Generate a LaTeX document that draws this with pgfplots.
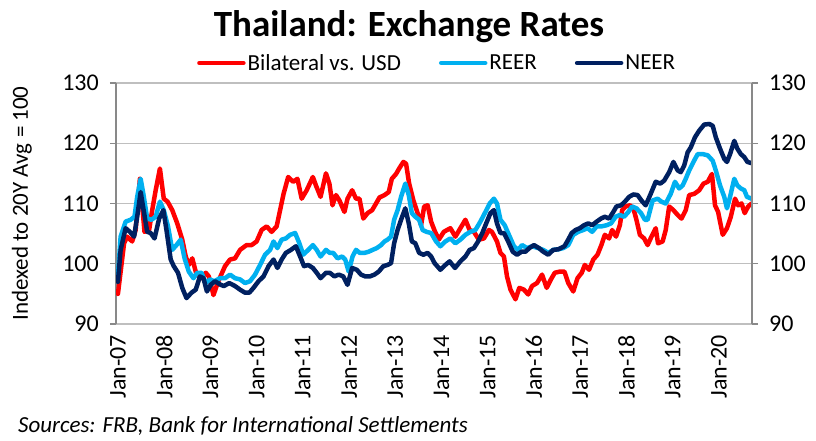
\documentclass[border=0pt]{standalone}
\usepackage{fontspec}
\setmainfont{Carlito}
\usepackage{pgfplots}
\pgfplotsset{compat=1.18}
\definecolor{cred}{HTML}{FF0000}
\definecolor{cblue}{HTML}{00B0F0}
\definecolor{cnavy}{HTML}{002060}
\definecolor{gridg}{HTML}{BFBFBF}
\definecolor{axg}{HTML}{898989}
\begin{document}
\begin{tikzpicture}
\path[use as bounding box] (0bp,0bp) rectangle (816bp,441bp);
\node[anchor=base, font=\fontsize{37bp}{40bp}\selectfont\bfseries, inner sep=0pt] at (409bp,404bp) {Thailand: Exchange Rates};
\node[anchor=base west, font=\fontsize{23bp}{26bp}\selectfont\itshape, inner sep=0pt] at (18bp,9bp) {Sources: FRB, Bank for International Settlements};
\begin{axis}[
  at={(116bp,117bp)}, anchor=south west, scale only axis,
  width=636bp, height=241bp,
  xmin=-0.5, xmax=164.6, ymin=90, ymax=130,
  axis y line*=left, axis x line*=bottom,
  x axis line style={draw=gridg, line width=1.3bp, -},
  y axis line style={draw=axg, line width=1.3bp, -},
  ytick={90,100,110,120,130},
  xtick={0,12,...,156},
  xticklabels={Jan-07,Jan-08,Jan-09,Jan-10,Jan-11,Jan-12,Jan-13,Jan-14,Jan-15,Jan-16,Jan-17,Jan-18,Jan-19,Jan-20},
  x tick style={draw=none},
  y tick style={draw=axg, line width=1.3bp},
  tick align=outside, major tick length=6bp,
  ymajorgrids, grid style={draw=gridg, line width=1.3bp},
  /pgf/number format/assume math mode=true,
  tick label style={font=\fontsize{24bp}{26bp}\selectfont, text=black},
  xticklabel style={rotate=90, anchor=east, inner sep=0pt},
  yticklabel style={inner sep=0pt},
  xtick pos=bottom, ytick pos=left,
  xticklabel shift=5bp, yticklabel shift=11bp,
  ylabel={Indexed to 20Y Avg = 100},
  ylabel style={at={(axis description cs:-0.148,0.5)}, anchor=center, font=\fontsize{23bp}{26bp}\selectfont},
  legend columns=3,
  legend style={at={(axis description cs:0.505,1.083)}, anchor=center, draw=none, fill=none,
    font=\fontsize{23bp}{26bp}\selectfont, inner sep=0pt,
    /tikz/every even column/.append style={column sep=36bp}},
  legend image code/.code={\draw[#1] (0bp,0bp) -- (44bp,0bp);},
  every axis plot/.append style={line width=4.5bp, line join=round, line cap=round},
]
\addplot[cred] coordinates {
(0,95.0) (1.6,103.4) (2.4,104.5) (3.7,103.7) (4.6,105.6) (5.7,114.1) (6.9,105.3) (8.1,105.6) (8.9,108.9) (9.8,112.2) (10.9,115.8) (11.9,110.8) (12.9,110.3) (14.1,108.9) (15.4,106.7) (16.7,104.0) (17.6,101.2) (18.4,99.8) (19.3,100.9) (20.4,98.2) (21.6,97.6) (22.8,98.5) (23.6,97.9) (24.8,94.8) (26.0,97.0) (27.8,99.6) (29.1,100.7) (30.4,100.9) (31.7,102.3) (33.4,103.1) (34.7,103.1) (36,103.7) (37.3,105.6) (38.6,106.2) (39.9,105.3) (41.2,106.2) (42.1,108.9) (43,111.6) (44.2,114.4) (45.5,113.6) (46.6,114.1) (47.7,110.8) (49,112.2) (50.6,114.4) (51.4,113.0) (52.6,111.1) (54,115.0) (54.9,113.3) (55.7,109.7) (56.6,111.4) (57.5,110.5) (58.8,108.6) (59.6,110.8) (60.8,112.2) (61.8,110.8) (62.7,110.8) (63.7,107.5) (64.8,108.4) (66,108.9) (67,110) (67.9,111) (69.2,111.4) (70.3,111.9) (71.1,114.1) (72.2,114.9) (73,115.8) (74.1,116.9) (74.8,116.6) (75.6,113.3) (76.7,110.5) (77.8,108.4) (78.7,106.4) (79.5,109.5) (80.4,109.7) (81.3,107) (82.2,105.5) (83.3,104.0) (84.6,105.3) (86.3,105.9) (87.6,104.5) (88.9,105.9) (90.2,107.3) (91.3,105.6) (92.4,105.3) (93.7,104.0) (95,104.2) (96.3,105.6) (97.1,105.3) (98.4,103.7) (99.3,101.8) (100.2,101.2) (101,97.9) (101.9,95.7) (103.2,94.1) (104.2,96.0) (105.4,95.7) (106.5,94.9) (107.5,96.3) (108.8,96.8) (110.1,98.2) (111.3,96.0) (112.4,97.4) (113.4,98.5) (114.7,98.7) (115.9,98.7) (116.9,96.8) (118.2,95.4) (119.3,97.6) (120.4,98.5) (121.2,99.8) (122.3,99.0) (123.4,100.7) (124.5,101.5) (125.5,103.1) (126.4,104.8) (127.5,104.2) (128.3,105.6) (129.3,104.5) (130.3,106.4) (130.9,108.9) (131.8,109.5) (132.9,109.7) (133.8,109.2) (134.6,107.3) (135.5,104.8) (136.6,104.2) (137.5,103.1) (138.5,104.5) (139.6,105.9) (140.2,103.4) (141.4,103.7) (142.2,105.6) (143.1,109.5) (144.2,108.9) (145.3,108.1) (146.3,107.5) (147.4,108.9) (148.3,111.4) (149.6,111.6) (150.9,112.2) (152,113.3) (153.1,113.6) (154.2,114.9) (155,109.7) (155.8,108.6) (157,104.8) (158.1,105.9) (159.1,107.8) (160.2,110.8) (161,109.7) (161.9,110) (162.7,108.4) (163.6,109.5) (164.5,110)
};
\addlegendentry{Bilateral vs. USD}
\addplot[cblue] coordinates {
(0,98.0) (0.7,104.5) (2,107) (3.3,107.3) (4.3,107.8) (5,111.1) (5.9,114.1) (6.6,111.6) (7.6,107.5) (8.7,107.3) (9.8,107.8) (10.9,110.3) (11.9,108.9) (13,106.2) (14.1,102.3) (15.2,103.1) (16.3,104.0) (17.3,100.9) (18.4,98.7) (19.6,97.6) (20.6,98.5) (21.7,98.5) (22.8,96.8) (23.9,97.4) (25,97.1) (26.5,97.6) (27.8,97.6) (29.1,98.2) (30.4,97.6) (31.7,97.4) (33,96.8) (34.3,97.1) (35.6,98.2) (36.9,99.8) (38.2,101.5) (39.5,102.3) (40.4,103.7) (41.4,102.6) (42.5,104) (43.6,104.2) (44.7,104.8) (46,105.1) (47.1,103.4) (48.1,101.5) (49.4,102.3) (50.6,103.1) (51.6,102.3) (52.6,101.2) (54,102.3) (55,101.8) (55.9,101.8) (57,100.9) (58.2,101.2) (59,100.7) (59.9,98.7) (60.9,101.2) (61.8,102.3) (62.8,101.8) (64,101.8) (65.1,102.0) (66.1,102.3) (67.2,102.6) (68.3,103.1) (69.2,103.7) (70,104) (70.9,104.5) (71.7,107.3) (72.6,108.9) (73.5,111.1) (74.6,113.3) (75.5,111.4) (76.3,108.4) (77.2,107.8) (78.2,107.3) (79.1,105.6) (80.1,105.3) (81.3,105.1) (82.6,103.7) (83.7,102.9) (85,103.7) (86.3,104.2) (87.6,103.4) (88.9,104) (90.2,104.8) (91.5,105.3) (92.8,105.6) (94.1,107) (95.4,108.6) (96.5,110) (97.6,110.8) (98.4,110) (99.3,107.3) (100.4,106.4) (101.5,104.8) (102.8,102.9) (103.9,102.3) (104.9,103.1) (106.2,102.6) (107.5,102.9) (109.1,102.6) (110.4,102.3) (111.7,101.8) (113,102.3) (114.3,102.4) (115.6,102.6) (116.9,103.1) (118.2,104.8) (119.5,105.3) (120.8,105.6) (121.9,105.9) (123.1,105.3) (124.3,106.2) (125.5,106.2) (126.9,106.4) (128,106.7) (129.2,107.8) (130.3,108.1) (131.4,107.8) (132.5,108.6) (133.5,109.5) (134.6,109.2) (135.8,108.4) (136.8,107.3) (137.5,107.3) (138.8,110.5) (140.1,110.8) (141.1,110.3) (142.2,110) (143.5,111.6) (144.6,113.6) (145.7,112.5) (146.6,113) (147.4,114.1) (148.3,115.5) (149.4,116.9) (150.5,118.2) (151.8,118.2) (153.1,118) (154.4,117.1) (155.2,115.5) (156.3,113) (157.4,111.1) (158.1,109.2) (158.9,111.1) (160,114.1) (160.8,113) (161.7,112.5) (162.6,112.2) (163.3,111.1) (164.5,110.8)
};
\addlegendentry{REER}
\addplot[cnavy] coordinates {
(0,97) (0.7,102.3) (2,105.9) (3.1,105.3) (4.2,104.5) (5,107.8) (5.9,111.9) (6.8,108.4) (7.6,105.3) (8.5,105.1) (9.5,104.2) (10.7,107.5) (11.8,108.9) (12.6,105.6) (13.7,100.7) (14.5,99.6) (15.6,98.5) (16.7,96) (17.8,94.3) (19.1,95.2) (20.2,95.7) (21.3,97.9) (22.2,97.6) (23.1,95.4) (24.1,96.5) (25.2,97.1) (26.7,96.5) (27.5,96.3) (28.9,96.8) (30.4,96.3) (31.7,95.7) (33,95.2) (34.1,95.2) (35.2,96.0) (36.5,97.1) (37.8,97.9) (39.1,99.6) (40.4,100.7) (41.4,99.3) (42.5,100.7) (43.6,101.8) (44.9,102.3) (46.2,102.9) (47.3,101.2) (48.3,99.6) (49.4,99.8) (50.6,99.3) (51.6,98.5) (52.6,97.6) (54,98.5) (55,98.5) (56.2,97.9) (57.3,98.2) (58.5,97.9) (59.6,96.5) (60.8,99.3) (62,99) (63.1,98.2) (64.2,97.9) (65.4,97.9) (66.6,98.2) (67.7,98.7) (68.9,99.6) (70,99.8) (70.9,100.1) (71.7,103.4) (72.6,105.6) (73.5,107.3) (74.6,109.2) (75.5,106.7) (76.3,103.7) (77.2,103.4) (78.2,101.8) (79.3,101.5) (80.4,101.8) (81.3,101.2) (82.2,100.1) (83.7,99) (85,99.8) (86.1,100.4) (87.5,99.3) (88.9,100.4) (90.2,101.2) (91.3,102.3) (92.4,102.6) (93.5,103.7) (94.6,105.1) (95.6,106.7) (96.7,108.4) (97.6,108.9) (98.4,106.7) (99.3,105.1) (100.2,105.1) (101.3,103.7) (102.5,102) (103.6,101.5) (104.8,102) (105.8,102) (106.8,102.6) (108,103.1) (109.3,102.6) (110.4,102) (111.7,101.5) (113,102.3) (114.3,102.4) (115.9,102.9) (116.9,104) (117.8,105.1) (118.8,105.6) (119.9,105.9) (121,106.4) (122.1,106.7) (123.1,106.4) (124.3,107) (125.4,107.5) (126.4,107.8) (127.5,107.5) (128.6,108.6) (129.4,109.5) (130.6,109.7) (131.6,110.3) (132.7,111.1) (133.8,111.5) (134.9,111.4) (135.9,110.5) (137,109.7) (138.3,111.6) (139.6,113.6) (140.8,113.3) (141.8,113.8) (143.1,115.2) (144.2,116.9) (145.3,115.5) (146.1,115.2) (147,116.3) (147.9,118.5) (148.7,119.3) (149.8,121) (150.9,122.1) (152.2,123.1) (153.5,123.2) (154.4,122.9) (155.2,121) (156.3,119.1) (157.4,117.4) (158.1,116.9) (158.9,118.2) (160,120.4) (160.8,119.1) (161.7,118.2) (162.6,117.7) (163.4,116.9) (164.5,116.7)
};
\addlegendentry{NEER}
\end{axis}
\begin{axis}[
  at={(116bp,117bp)}, anchor=south west, scale only axis,
  width=636bp, height=241bp,
  xmin=-0.5, xmax=164.6, ymin=90, ymax=130,
  axis y line*=right, axis x line=none,
  y axis line style={draw=axg, line width=1.3bp, -},
  ytick={90,100,110,120,130},
  y tick style={draw=axg, line width=1.3bp},
  tick align=outside, major tick length=6bp,
  /pgf/number format/assume math mode=true,
  tick label style={font=\fontsize{24bp}{26bp}\selectfont, text=black},
  yticklabel style={inner sep=0pt},
  yticklabel shift=11bp,
]
\end{axis}
\end{tikzpicture}
\end{document}
